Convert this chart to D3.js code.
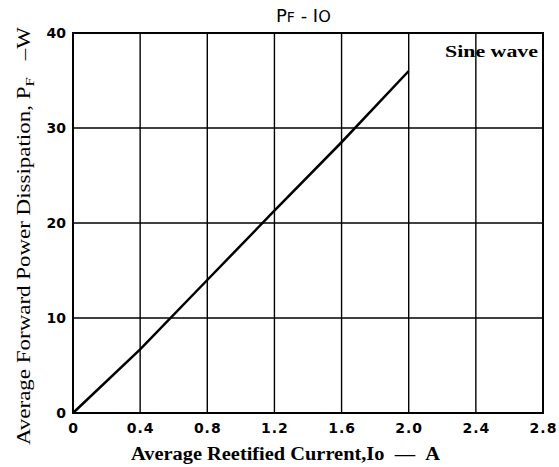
<!DOCTYPE html>
<html><head><meta charset="utf-8">
<script src="https://cdn.jsdelivr.net/npm/d3@7"></script>
<style>body{margin:0;background:#fff}</style>
</head><body>
<script>
const currentA = [0, 0.4, 0.8, 1.2, 1.6, 2.0];
const powerW = [0, 6.7, 14.0, 21.3, 28.5, 36.0];
const xTicks = [0, 0.4, 0.8, 1.2, 1.6, 2.0, 2.4, 2.8];
const xTickLabels = ["0", "0.4", "0.8", "1.2", "1.6", "2.0", "2.4", "2.8"];
const yTicks = [0, 10, 20, 30, 40];

const W = 559, H = 467;
const m = {left: 73, right: 16, top: 33, bottom: 54};
const svg = d3.select("body").append("svg").attr("width", W).attr("height", H);
const x = d3.scaleLinear().domain([0, 2.8]).range([m.left, W - m.right]);
const y = d3.scaleLinear().domain([0, 40]).range([H - m.bottom, m.top]);

// grid
svg.append("g").selectAll("line").data(xTicks.slice(1, -1)).join("line")
  .attr("x1", d => x(d)).attr("x2", d => x(d)).attr("y1", y(0)).attr("y2", y(40))
  .attr("stroke", "#000").attr("stroke-width", 1.4);
svg.append("g").selectAll("line").data(yTicks.slice(1, -1)).join("line")
  .attr("x1", x(0)).attr("x2", x(2.8)).attr("y1", d => y(d)).attr("y2", d => y(d))
  .attr("stroke", "#000").attr("stroke-width", 1.4);
// frame
svg.append("rect").attr("x", x(0)).attr("y", y(40)).attr("width", x(2.8) - x(0)).attr("height", y(0) - y(40))
  .attr("fill", "none").attr("stroke", "#000").attr("stroke-width", 2);

// axes labels
const xAxis = d3.axisBottom(x).tickValues(xTicks).tickFormat((d, i) => xTickLabels[i]).tickSize(0).tickPadding(10);
const gx = svg.append("g").attr("transform", `translate(0,${y(0)})`).call(xAxis);
gx.select(".domain").remove();
gx.selectAll("text").attr("font-family", "DejaVu Sans").attr("font-weight", "bold").attr("font-size", 14)
  .attr("letter-spacing", 1).attr("fill", "#000");
const yAxis = d3.axisLeft(y).tickValues(yTicks).tickSize(0).tickPadding(7);
const gy = svg.append("g").attr("transform", `translate(${x(0)},0)`).call(yAxis);
gy.select(".domain").remove();
gy.selectAll("text").attr("font-family", "DejaVu Sans").attr("font-weight", "bold").attr("font-size", 14).attr("fill", "#000");

// curve
svg.append("path").datum(currentA.map((c, i) => [c, powerW[i]]))
  .attr("d", d3.line().x(d => x(d[0])).y(d => y(d[1])))
  .attr("fill", "none").attr("stroke", "#000").attr("stroke-width", 2.5);

// title
const t = svg.append("text").attr("x", 276).attr("y", 22)
  .attr("font-family", "DejaVu Sans").attr("font-size", 18).attr("fill", "#000");
t.append("tspan").text("P");
t.append("tspan").attr("font-size", 14).text("F");
t.append("tspan").text("\u00a0-\u00a0I");
t.append("tspan").attr("font-size", 16).text("O");

svg.append("text").attr("x", 445).attr("y", 57)
  .attr("font-family", "Liberation Serif").attr("font-weight", "bold").attr("font-size", 17)
  .attr("textLength", 93).attr("lengthAdjust", "spacingAndGlyphs").text("Sine wave");

// x title
svg.append("text").attr("x", 131).attr("y", 460)
  .attr("font-family", "Liberation Serif").attr("font-weight", "bold").attr("font-size", 18)
  .attr("textLength", 309).attr("lengthAdjust", "spacingAndGlyphs")
  .text("Average Reetified Current,Io\u00a0\u00a0\u2014\u00a0\u00a0A");

// y title
const yt = svg.append("text").attr("transform", `translate(30,445) rotate(-90)`)
  .attr("font-family", "Liberation Serif").attr("font-size", 18).attr("fill", "#000")
  .attr("textLength", 418).attr("lengthAdjust", "spacingAndGlyphs");
yt.append("tspan").text("Average Forward Power Dissipation, P");
yt.append("tspan").attr("font-size", 13).attr("dy", 4).text("F");
yt.append("tspan").attr("dy", -4).text("\u00a0\u00a0\u00a0\u2013W");
</script>
</body></html>
